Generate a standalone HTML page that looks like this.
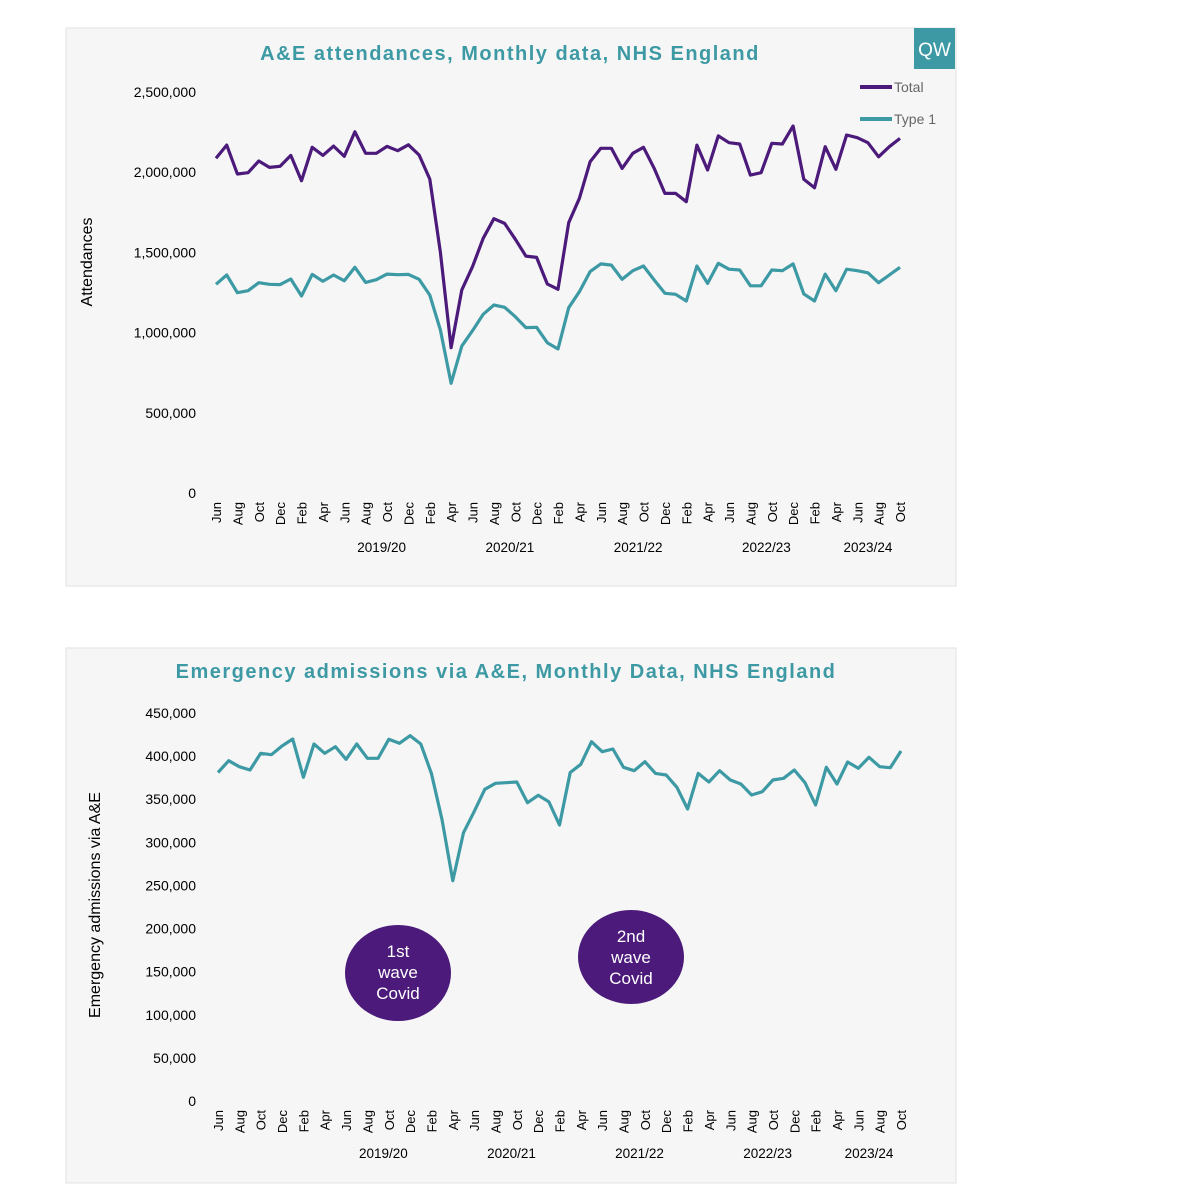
<!DOCTYPE html>
<html><head><meta charset="utf-8"><style>
body{margin:0;background:#fff;width:1194px;height:1200px;overflow:hidden;font-family:"Liberation Sans","DejaVu Sans",sans-serif}
svg{position:absolute;left:0;top:0}
</style></head><body>
<svg id="s" width="1194" height="1200" viewBox="0 0 1194 1200">
<rect x="66" y="28" width="890" height="558" fill="#f6f6f6" stroke="#e2e2e2"/>
<rect x="66" y="648" width="890" height="535" fill="#f6f6f6" stroke="#e2e2e2"/>
<text x="510" y="60" text-anchor="middle" font-size="20" font-weight="bold" letter-spacing="1.5" fill="#3d9aa4">A&amp;E attendances, Monthly data, NHS England</text>
<rect x="914" y="28" width="41" height="41" fill="#3d9aa4"/>
<text x="934.5" y="56" text-anchor="middle" font-size="19" fill="#fff">QW</text>
<line x1="860" y1="87" x2="892" y2="87" stroke="#4b1a7a" stroke-width="4"/>
<text x="894" y="92" font-size="14" fill="#666">Total</text>
<line x1="860" y1="119" x2="892" y2="119" stroke="#3d9aa4" stroke-width="4"/>
<text x="894" y="124" font-size="14" fill="#666">Type 1</text>
<text transform="translate(92,262) rotate(-90)" text-anchor="middle" font-size="16" fill="#000">Attendances</text>
<text x="506" y="678" text-anchor="middle" font-size="20" font-weight="bold" letter-spacing="1.5" fill="#3d9aa4">Emergency admissions via A&amp;E, Monthly Data, NHS England</text>
<text transform="translate(100,905) rotate(-90)" text-anchor="middle" font-size="16" fill="#000">Emergency admissions via A&amp;E</text>
<ellipse cx="398" cy="973" rx="53" ry="48" fill="#4b1a7a"/>
<text x="398" y="957" text-anchor="middle" font-size="17" fill="#fff"><tspan x="398" dy="0">1st</tspan><tspan x="398" dy="21">wave</tspan><tspan x="398" dy="21">Covid</tspan></text>
<ellipse cx="631" cy="957" rx="53" ry="47" fill="#4b1a7a"/>
<text x="631" y="942" text-anchor="middle" font-size="17" fill="#fff"><tspan x="631" dy="0">2nd</tspan><tspan x="631" dy="21">wave</tspan><tspan x="631" dy="21">Covid</tspan></text>
<g id="g1"></g><g id="g2"></g>
</svg>
<script>
const monthNames=["Jun","Jul","Aug","Sep","Oct","Nov","Dec","Jan","Feb","Mar","Apr","May"];
const yearLabels=["2019/20","2020/21","2021/22","2022/23","2023/24"];
const total=[2087,2169,1989,1997,2070,2030,2037,2105,1947,2155,2105,2163,2099,2252,2118,2118,2161,2134,2171,2107,1957,1500,906,1266,1411,1588,1710,1681,1582,1477,1469,1303,1270,1685,1837,2065,2149,2149,2024,2118,2155,2024,1868,1868,1816,2169,2014,2226,2184,2176,1982,1997,2180,2176,2288,1956,1903,2159,2018,2232,2215,2184,2096,2159,2211];
const type1=[1301,1359,1249,1261,1311,1301,1299,1334,1228,1363,1320,1359,1323,1407,1313,1330,1365,1361,1363,1332,1234,1016,684,916,1012,1114,1172,1158,1099,1031,1033,937,898,1155,1255,1380,1428,1421,1332,1386,1415,1328,1245,1239,1197,1415,1307,1432,1395,1390,1292,1292,1390,1386,1428,1241,1197,1365,1261,1395,1386,1373,1311,1359,1407];
const admissions=[381,394.7,387.7,383.9,403.3,401.6,411.7,419.8,375.4,414,403.3,410.9,396.3,414,397.5,397.5,419.5,414.9,423.7,414,380,325.9,255.5,311.2,335.5,361.5,368.5,369.2,370,346,354.5,347.1,320.1,381,390.5,416.7,405.1,408.2,387,383.1,393.5,380,378.1,363.8,338.7,380,370,383.1,372.3,367.7,354.9,358.7,372.3,374.3,383.9,369.2,343.3,387,367.7,393.2,385.9,398.6,387.7,386.6,405.9];
const ticks1=[0,500,1000,1500,2000,2500];
const ticks2=[0,50,100,150,200,250,300,350,400,450];
const NS="http://www.w3.org/2000/svg";
function mk(g,tag,attrs,txt){const e=document.createElementNS(NS,tag);for(const k in attrs)e.setAttribute(k,attrs[k]);if(txt!=null)e.textContent=txt;g.appendChild(e);return e;}
function fmt(v){return (v*1000).toLocaleString('en-US');}
function draw(gid,x0,x1,yb,yt,ymax,ticks,series,colors,names,monthY,yearY){
  const g=document.getElementById(gid);
  const n=series[0].length;
  const xs=i=>x0+(x1-x0)*i/(n-1);
  const ys=v=>yb-(yb-yt)*v/ymax;
  ticks.forEach(t=>{
    const e=mk(g,'text',{x:196,y:ys(t)+5,'text-anchor':'end','font-size':14,fill:'#000'},fmt(t));
    
    
  });
  for(let i=0;i<n;i+=2){
    const x=xs(i);
    const e=mk(g,'text',{transform:`translate(${x+5},${monthY}) rotate(-90)`,'text-anchor':'end','font-size':13,fill:'#000'},monthNames[i%12]);
    
    
  }
  yearLabels.forEach((y,k)=>{
    const a=10+12*k, b=Math.min(21+12*k,n-1);
    const e=mk(g,'text',{x:(xs(a)+xs(b))/2,y:yearY,'text-anchor':'middle','font-size':13.5,fill:'#000'},y);
    
    
  });
  series.forEach((s,si)=>{
    const d=s.map((v,i)=>(i?'L':'M')+xs(i).toFixed(1)+','+ys(v).toFixed(1)).join('');
    const p=mk(g,'path',{d:d,fill:'none',stroke:colors[si],'stroke-width':3.2,'stroke-linejoin':'round'});
    
    
  });
}
draw('g1',216,900,493,92,2500,ticks1,[total,type1],['#4b1a7a','#3d9aa4'],['total-line','type1-line'],502,552);
draw('g2',218,901,1101,713,450,ticks2,[admissions],['#3d9aa4'],['admissions-line'],1110,1158);
</script>
</body></html>
